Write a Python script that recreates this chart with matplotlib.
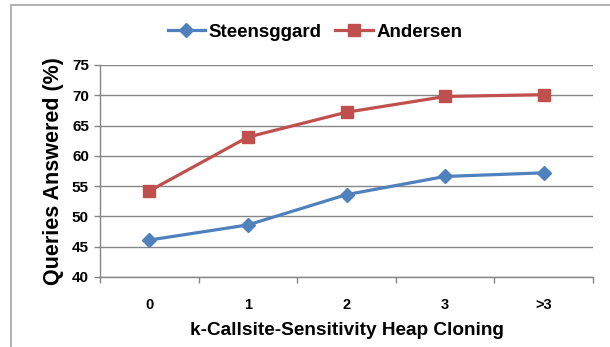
import matplotlib
matplotlib.use("Agg")
import matplotlib.pyplot as plt
from matplotlib.patches import Rectangle
from matplotlib.ticker import FixedLocator, NullFormatter

categories = ["0", "1", "2", "3", ">3"]
steensgaard = [46.1, 48.6, 53.6, 56.6, 57.2]
andersen = [54.2, 63.1, 67.2, 69.8, 70.1]
yticks = [40, 45, 50, 55, 60, 65, 70, 75]

plt.rcParams['font.family'] = ['Liberation Sans', 'DejaVu Sans']
plt.rcParams['font.weight'] = 'bold'

fig = plt.figure(figsize=(6.10, 3.47), dpi=100)
W, H = 610, 347
ax = fig.add_axes([100 / W, 1 - 277 / H, (593 - 100) / W, (277 - 65) / H])

# outer chart border
fig.patches.append(Rectangle((11 / W, -0.1), 1.2, 1 - 5 / H + 0.1,
                             transform=fig.transFigure, fill=False,
                             edgecolor='#a6a6a6', linewidth=1.2))

blue = '#4F81BD'
red = '#C0504D'
x = list(range(len(categories)))
ax.plot(x, steensgaard, color=blue, lw=2.3, marker='D', ms=7.5,
        label='Steensggard', zorder=3)
ax.plot(x, andersen, color=red, lw=2.3, marker='s', ms=8.5,
        label='Andersen', zorder=3)

ax.set_xlim(-0.5, len(categories) - 0.5)
ax.set_ylim(40, 75)
ax.set_yticks(yticks)
ax.set_xticks(x)
ax.set_xticklabels(categories)
ax.xaxis.set_minor_locator(FixedLocator([i - 0.5 for i in range(len(categories) + 1)]))
ax.xaxis.set_minor_formatter(NullFormatter())
ax.tick_params(axis='x', which='major', length=0, pad=15, labelsize=10.5)
ax.tick_params(axis='x', which='minor', length=4, color='#868686', width=1)
ax.tick_params(axis='y', length=4, color='#868686', width=1, pad=4,
               labelsize=11)
for lab in ax.get_xticklabels() + ax.get_yticklabels():
    lab.set_fontweight('bold')

ax.grid(axis='y', color='#868686', lw=1)
ax.set_axisbelow(True)
for s in ['top', 'right']:
    ax.spines[s].set_visible(False)
for s in ['left', 'bottom']:
    ax.spines[s].set_color('#868686')
    ax.spines[s].set_linewidth(1)

ax.set_xlabel('k-Callsite-Sensitivity Heap Cloning', fontsize=13.7,
              fontweight='bold', labelpad=7)
ax.set_ylabel('Queries Answered (%)', fontsize=15.5, fontweight='bold',
              labelpad=6)

leg = fig.legend(loc='center', bbox_to_anchor=(315 / W, 1 - 32 / H), ncol=2,
                 frameon=False, handlelength=2.0,
                 handletextpad=0.2, columnspacing=0.7,
                 prop={'weight': 'bold', 'size': 13.5})

fig.savefig('out.png', dpi=100)
